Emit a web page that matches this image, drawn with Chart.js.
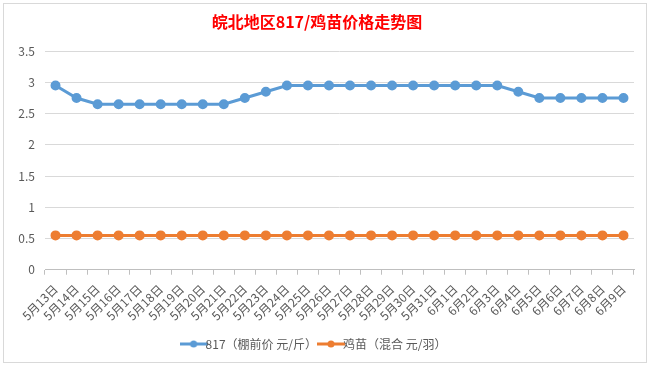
<!DOCTYPE html>
<html>
<head>
<meta charset="utf-8">
<script src="https://cdn.jsdelivr.net/npm/chart.js@4"></script>
<style>
  html, body { margin: 0; padding: 0; background: #fff; }
  #wrap { position: absolute; left: 0; top: 0; width: 651px; height: 366px; }
  #frame { position: absolute; left: 3px; top: 3px; width: 642px; height: 358px; border: 1px solid #d9d9d9; pointer-events: none; }
</style>
</head>
<body>
<div id="wrap">
  <canvas id="priceChart" width="651" height="366"></canvas>
  <div id="frame"></div>
</div>
<script>
const dates = ['5月13日', '5月14日', '5月15日', '5月16日', '5月17日', '5月18日', '5月19日', '5月20日',
    '5月21日', '5月22日', '5月23日', '5月24日', '5月25日', '5月26日', '5月27日', '5月28日', '5月29日',
    '5月30日', '5月31日', '6月1日', '6月2日', '6月3日', '6月4日', '6月5日', '6月6日', '6月7日', '6月8日', '6月9日'];
const price817 = [2.95, 2.75, 2.65, 2.65, 2.65, 2.65, 2.65, 2.65, 2.65, 2.75, 2.85, 2.95, 2.95, 2.95,
    2.95, 2.95, 2.95, 2.95, 2.95, 2.95, 2.95, 2.95, 2.85, 2.75, 2.75, 2.75, 2.75, 2.75];
const chickPrice = [0.55, 0.55, 0.55, 0.55, 0.55, 0.55, 0.55, 0.55, 0.55, 0.55, 0.55, 0.55, 0.55, 0.55,
    0.55, 0.55, 0.55, 0.55, 0.55, 0.55, 0.55, 0.55, 0.55, 0.55, 0.55, 0.55, 0.55, 0.55];
const yTicks = [0, 0.5, 1, 1.5, 2, 2.5, 3, 3.5];

const font = '"Noto Sans CJK SC", "Noto Sans", sans-serif';

// legend marker: short line with a dot in the middle
function legendMarker(color) {
    const c = document.createElement('canvas');
    c.width = 28; c.height = 10;
    const g = c.getContext('2d');
    g.strokeStyle = color;
    g.lineWidth = 3;
    g.beginPath(); g.moveTo(0, 5); g.lineTo(28, 5); g.stroke();
    g.fillStyle = color;
    g.beginPath(); g.arc(14, 5, 3.5, 0, Math.PI * 2); g.fill();
    return c;
}

const ctx = document.getElementById('priceChart');

new Chart(ctx, {
    type: 'line',
    data: {
        labels: dates,
        datasets: [{
            label: '817（棚前价 元/斤）',
            data: price817,
            borderColor: '#5B9BD5',
            backgroundColor: '#5B9BD5',
            borderWidth: 3,
            pointRadius: 3.5,
            pointStyle: 'circle',
            tension: 0
        }, {
            label: '鸡苗（混合 元/羽）',
            data: chickPrice,
            borderColor: '#ED7D31',
            backgroundColor: '#ED7D31',
            borderWidth: 3,
            pointRadius: 3.5,
            tension: 0
        }]
    },
    options: {
        responsive: false,
        animation: false,
        layout: {
            padding: { left: 0, right: 17, top: 10, bottom: 6 }
        },
        scales: {
            x: {
                offset: true,
                grid: {
                    offset: true,
                    drawOnChartArea: false,
                    drawTicks: true,
                    tickLength: 5,
                    color: '#bfbfbf'
                },
                border: { color: '#bfbfbf' },
                ticks: {
                    autoSkip: false,
                    minRotation: 45,
                    maxRotation: 45,
                    color: '#595959',
                    padding: 7,
                    font: { family: font, size: 12 }
                }
            },
            y: {
                min: 0,
                max: 3.5,
                afterBuildTicks: (axis) => { axis.ticks = yTicks.map(v => ({ value: v })); },
                afterFit: (axis) => { axis.width = 45; },
                grid: {
                    color: '#d9d9d9',
                    drawTicks: false
                },
                border: { display: false },
                ticks: {
                    color: '#595959',
                    padding: 10,
                    font: { family: font, size: 12 },
                    callback: (v) => String(v)
                }
            }
        },
        plugins: {
            title: {
                display: true,
                text: '皖北地区817/鸡苗价格走势图',
                color: '#ff0000',
                font: { family: font, size: 16, weight: 'bold' },
                padding: { top: 2, bottom: 20 }
            },
            legend: {
                position: 'bottom',
                labels: {
                    color: '#595959',
                    font: { family: font, size: 12 },
                    usePointStyle: true,
                    boxHeight: 10,
                    padding: 8,
                    generateLabels: (chart) => chart.data.datasets.map((ds, i) => ({
                        text: ds.label,
                        fontColor: '#595959',
                        pointStyle: legendMarker(ds.borderColor),
                        lineWidth: 0,
                        strokeStyle: 'transparent',
                        fillStyle: ds.borderColor,
                        datasetIndex: i
                    }))
                }
            },
            tooltip: { enabled: false }
        }
    }
});
</script>
</body>
</html>
